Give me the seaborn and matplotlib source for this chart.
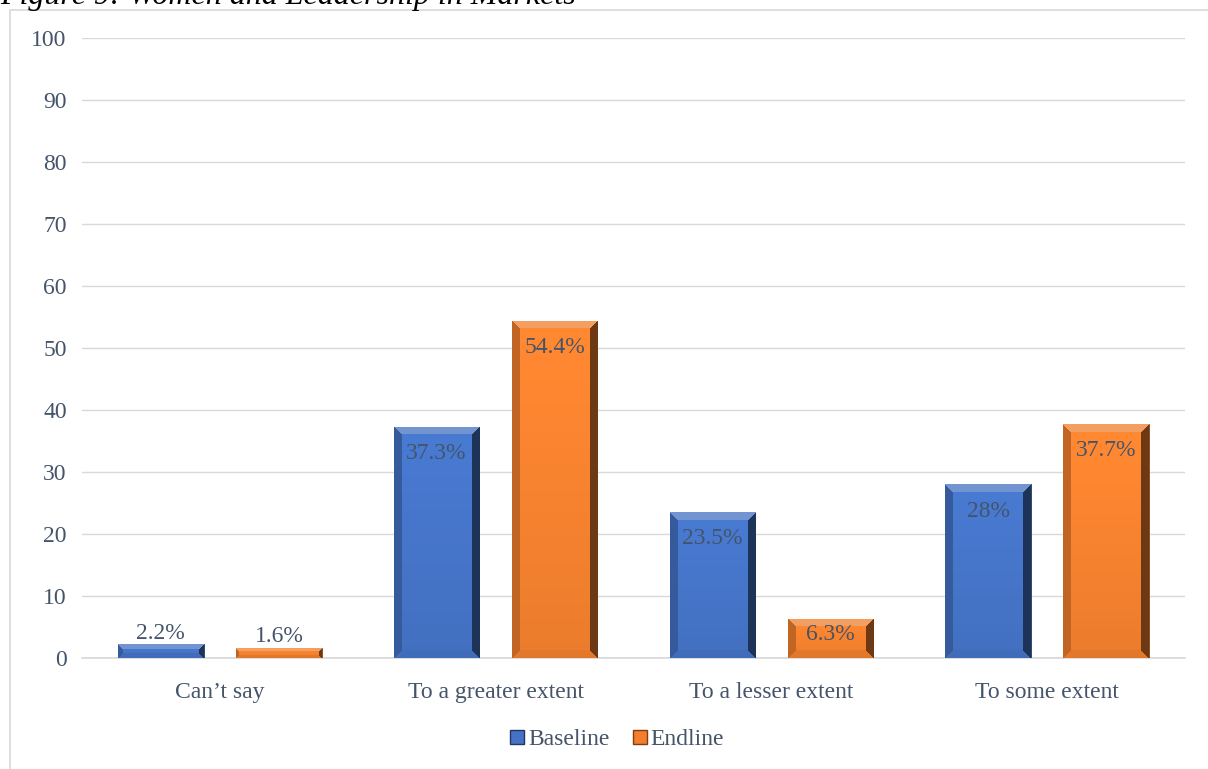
import matplotlib
matplotlib.use("Agg")
import matplotlib.pyplot as plt
import matplotlib.colors as mcolors
import numpy as np
import seaborn as sns
import pandas as pd
from matplotlib.patches import Rectangle
from matplotlib.lines import Line2D

categories = ["Can\u2019t say", "To a greater extent", "To a lesser extent", "To some extent"]
baseline = [2.2, 37.3, 23.5, 28.0]
endline = [1.6, 54.4, 6.3, 37.7]
baseline_labels = ["2.2%", "37.3%", "23.5%", "28%"]
endline_labels = ["1.6%", "54.4%", "6.3%", "37.7%"]
series = ["Baseline", "Endline"]
yticks = [0, 10, 20, 30, 40, 50, 60, 70, 80, 90, 100]

df = pd.DataFrame({
    "category": categories * 2,
    "value": baseline + endline,
    "series": [series[0]] * 4 + [series[1]] * 4,
    "label": baseline_labels + endline_labels,
})

sns.set_theme(style="white")
plt.rcParams["font.family"] = ["Liberation Serif", "DejaVu Serif"]
txt = "#44546A"
colors = {"Baseline": "#4472C4", "Endline": "#F07F2E"}
edges = {"Baseline": "#1F3864", "Endline": "#843C0C"}
FS = 17

fig = plt.figure(figsize=(12.08, 7.69), dpi=100)
ax = fig.add_axes([82 / 1208, 1 - 658 / 769, (1185 - 82) / 1208, (658 - 38) / 769])

sns.barplot(data=df, x="category", y="value", hue="series", order=categories,
            hue_order=series, palette=colors, width=0.856, gap=0.276,
            saturation=1, legend=False, ax=ax, zorder=3)

ax.set_ylim(0, 100)
ax.set_xlim(-0.5, 3.5)
px_per_x = (1185 - 82) / 4.0
px_per_y = (658 - 38) / 100.0


def bevel_image(base, wpx, hpx, bev=8):
    rgb = np.array(mcolors.to_rgb(base))
    H = max(int(round(hpx)), 2)
    W = max(int(round(wpx)), 2)
    ii, jj = np.mgrid[0:H, 0:W]
    dt, db, dl, dr = ii, H - 1 - ii, jj, W - 1 - jj
    stack = np.stack([dt, dr, dl, db])
    which = np.argmin(stack, axis=0)
    mind = np.min(stack, axis=0)
    frac = ii / max(H - 1, 1)
    face = (1.08 - 0.1 * frac)[..., None] * rgb
    img = face.copy()
    factors = {0: 1.25, 1: 0.45, 2: 0.8, 3: 0.95}
    for k, f in factors.items():
        m = (mind < bev) & (which == k)
        if f > 1:
            col = rgb + (1 - rgb) * (f - 1)
        else:
            col = rgb * f
        img[m] = col
    return np.clip(img, 0, 1)


for cont, s, labs in zip(ax.containers, series, [baseline_labels, endline_labels]):
    for bar, lab in zip(cont, labs):
        bar.set_edgecolor(edges[s])
        bar.set_linewidth(0.6)
        h = bar.get_height()
        x0 = bar.get_x()
        w = bar.get_width()
        bev = min(8, max(2, int(h * px_per_y / 2.5)))
        img = bevel_image(colors[s], w * px_per_x, h * px_per_y, bev=bev)
        im = ax.imshow(img, extent=[x0, x0 + w, 0, h], aspect="auto", zorder=3.5,
                       interpolation="nearest")
        im.set_clip_path(bar)
        cx = x0 + w / 2
        if h > 10:
            ax.text(cx, h - 2.6, lab, ha="center", va="top", fontsize=FS, color=txt, zorder=5)
        elif h > 5:
            ax.text(cx, h - 0.8, lab, ha="center", va="top", fontsize=FS, color=txt, zorder=5)
        else:
            ax.text(cx, h + 0.1, lab, ha="center", va="bottom", fontsize=FS, color=txt, zorder=5)

ax.set_ylim(0, 100)
ax.set_xlim(-0.5, 3.5)
ax.set_yticks(yticks)
ax.set_yticklabels([str(t) for t in yticks], fontsize=FS, color=txt)
ax.tick_params(axis="x", labelsize=FS, colors=txt, length=0, pad=17)
ax.tick_params(axis="y", length=0, pad=11)
ax.yaxis.grid(True, color="#D9D9D9", linewidth=1.0, zorder=0)
ax.set_axisbelow(True)
for sp in ["top", "right", "left"]:
    ax.spines[sp].set_visible(False)
ax.spines["bottom"].set_color("#D9D9D9")
ax.set_xlabel("")
ax.set_ylabel("")

handles = [Line2D([0], [0], marker="s", linestyle="", markersize=10,
                  markerfacecolor=colors[s], markeredgecolor=edges[s]) for s in series]
fig.legend(handles, series, loc="center", bbox_to_anchor=(616 / 1208, 1 - 739 / 769),
           ncol=2, frameon=False, fontsize=FS, labelcolor=txt, handletextpad=0.05,
           columnspacing=0.9, handlelength=0.8)

fig.patches.append(Rectangle((10 / 1208, -0.01), 1.0, 1 - 10 / 769 + 0.01,
                             transform=fig.transFigure, fill=False,
                             edgecolor="#D9D9D9", linewidth=1.2))
fig.text(0.0, 1 - 4 / 769, "Figure 9: Women and Leadership in Markets", ha="left",
         va="baseline", fontsize=23, style="italic", color="black")

fig.savefig("out.png", dpi=100)
